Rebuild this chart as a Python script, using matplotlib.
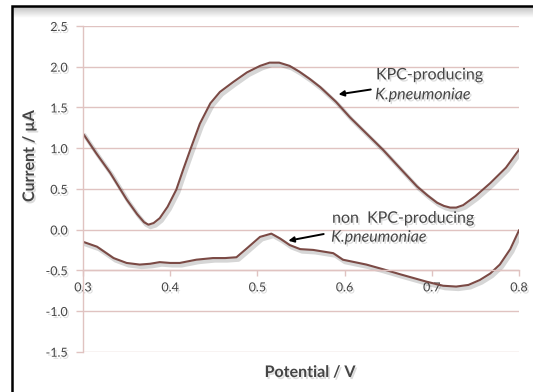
import matplotlib
matplotlib.use("Agg")
import matplotlib.pyplot as plt
import matplotlib.patheffects as pe
from matplotlib.patches import Rectangle
import numpy as np

# ---- data ----
kpc_x = [0.300, 0.315, 0.331, 0.350, 0.362, 0.370, 0.375, 0.381, 0.388, 0.397,
         0.407, 0.415, 0.423, 0.434, 0.446, 0.457, 0.472, 0.488, 0.503, 0.514,
         0.525, 0.537, 0.548, 0.560, 0.572, 0.590, 0.606, 0.625, 0.644, 0.663,
         0.683, 0.695, 0.706, 0.714, 0.721, 0.728, 0.736, 0.750, 0.767, 0.785, 0.800]
kpc_y = [1.18, 0.94, 0.70, 0.37, 0.19, 0.09, 0.06, 0.08, 0.14, 0.28,
         0.49, 0.74, 0.98, 1.30, 1.55, 1.69, 1.81, 1.93, 2.01, 2.05,
         2.05, 2.01, 1.94, 1.85, 1.75, 1.57, 1.38, 1.18, 0.98, 0.76,
         0.53, 0.42, 0.33, 0.29, 0.27, 0.27, 0.30, 0.41, 0.57, 0.76, 0.98]

non_x = [0.300, 0.316, 0.335, 0.350, 0.365, 0.377, 0.388, 0.400, 0.411, 0.430,
         0.449, 0.463, 0.476, 0.488, 0.503, 0.516, 0.526, 0.537, 0.549, 0.564,
         0.587, 0.598, 0.625, 0.645, 0.664, 0.694, 0.713, 0.728, 0.742, 0.755,
         0.767, 0.778, 0.790, 0.800]
non_y = [-0.15, -0.21, -0.35, -0.41, -0.43, -0.42, -0.40, -0.41, -0.41, -0.37,
         -0.35, -0.35, -0.34, -0.23, -0.09, -0.05, -0.11, -0.19, -0.24, -0.25,
         -0.29, -0.37, -0.43, -0.49, -0.55, -0.64, -0.69, -0.70, -0.68, -0.62,
         -0.54, -0.43, -0.24, -0.01]

x_ticks = [0.3, 0.4, 0.5, 0.6, 0.7, 0.8]
y_ticks = [-1.5, -1.0, -0.5, 0.0, 0.5, 1.0, 1.5, 2.0, 2.5]

# ---- style ----
FONT = ["Lato", "DejaVu Sans"]
plt.rcParams['font.family'] = FONT
line_c = "#7b4a45"
grid_c = "#e0c3c1"
text_c = "#454545"
shadow = [pe.SimpleLineShadow(offset=(1.5, -1.8), alpha=0.16, shadow_color="black", linewidth=3), pe.Normal()]
tshadow = [pe.withSimplePatchShadow(offset=(1.2, -1.5), alpha=0.14, shadow_rgbFace="black")]

W, H = 533, 392
fig = plt.figure(figsize=(W / 100, H / 100), dpi=100)
fig.patch.set_facecolor("white")

# grey gradient under the top frame edge
gax = fig.add_axes([12 / W, 1 - 18 / H, 1 - 12 / W, 12 / H])
grad = np.linspace(0.74, 1.0, 50).reshape(-1, 1)
gax.imshow(grad, aspect="auto", cmap="gray", vmin=0, vmax=1, extent=[0, 1, 0, 1], origin="upper")
gax.axis("off")

ax = fig.add_axes([83 / W, 1 - 351.7 / H, (519 - 83) / W, (351.7 - 26) / H])
ax.set_facecolor("none")

ax.set_xlim(0.3, 0.8)
ax.set_ylim(-1.5, 2.5)
ax.set_yticks(y_ticks)
ax.set_yticklabels([f"{v:.1f}" for v in y_ticks])
ax.set_xticks(x_ticks)
ax.set_xticklabels([f"{v:.1f}" for v in x_ticks])

for sp in ["top", "right"]:
    ax.spines[sp].set_visible(False)
ax.spines["bottom"].set_position(("data", -0.5))
ax.spines["bottom"].set_color(grid_c)
ax.spines["left"].set_color(grid_c)
ax.spines["left"].set_linewidth(1.0)
ax.spines["bottom"].set_linewidth(1.0)

ax.grid(axis="y", color=grid_c, linewidth=1.0)
ax.set_axisbelow(True)
ax.tick_params(axis="both", colors=grid_c, width=1.0, labelcolor=text_c, labelsize=9)
ax.tick_params(axis="x", length=4, pad=4)
ax.tick_params(axis="y", length=5, pad=6)
for lab in ax.get_xticklabels() + ax.get_yticklabels():
    lab.set_path_effects(tshadow)

ax.plot(kpc_x, kpc_y, color=line_c, linewidth=1.5, path_effects=shadow)
ax.plot(non_x, non_y, color=line_c, linewidth=1.5, path_effects=shadow)

# annotations
ax.text(0.636, 1.844, "KPC-producing", fontsize=11.5, color=text_c, va="baseline", ha="left", path_effects=tshadow)
ax.text(0.635, 1.60, "K.pneumoniae", fontsize=11.5, color=text_c, va="baseline", ha="left", style="italic", path_effects=tshadow)
ax.annotate("", xy=(0.593, 1.66), xytext=(0.630, 1.72),
            arrowprops=dict(arrowstyle="-|>", color="black", lw=1.4, mutation_scale=8, shrinkA=0, shrinkB=0))

ax.text(0.5856, 0.083, "non  KPC-producing", fontsize=11.5, color=text_c, va="baseline", ha="left", path_effects=tshadow)
ax.text(0.5845, -0.149, "K.pneumoniae", fontsize=11.5, color=text_c, va="baseline", ha="left", style="italic", path_effects=tshadow)
ax.annotate("", xy=(0.5355, -0.137), xytext=(0.576, -0.055),
            arrowprops=dict(arrowstyle="-|>", color="black", lw=1.4, mutation_scale=8, shrinkA=0, shrinkB=0))

# axis labels
fig.text(30 / W, 1 - 156 / H, "Current / µA", rotation=90, fontsize=11.5, fontweight="bold",
         color=text_c, ha="center", va="center", path_effects=tshadow)
fig.text(310 / W, 1 - 373 / H, "Potential / V", fontsize=11.5, fontweight="bold",
         color=text_c, ha="center", va="center", path_effects=tshadow)

# figure frame
fig.patches.append(Rectangle((12 / W, -0.05), 1.0, 1 - 6 / H + 0.05, transform=fig.transFigure,
                             fill=False, edgecolor="black", linewidth=1.8))

fig.savefig("out.png", dpi=100)
